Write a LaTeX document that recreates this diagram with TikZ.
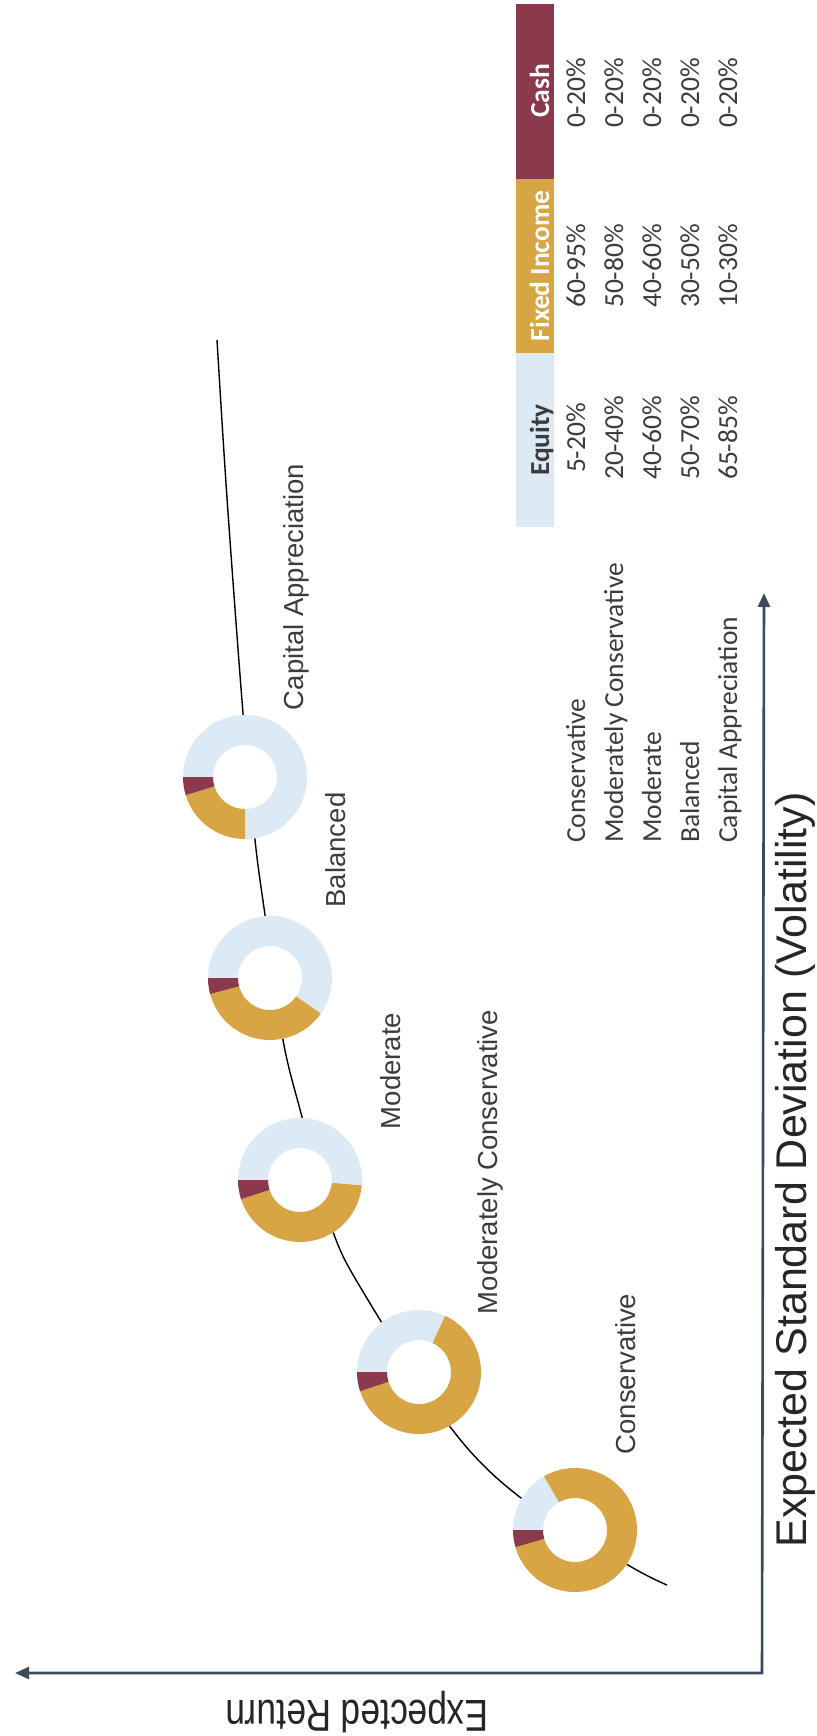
\documentclass[tikz,border=0pt]{standalone}
\usepackage{fontspec}
\usepackage{graphicx}
\setmainfont{Liberation Sans}
\newfontfamily\calib{Carlito}
\usetikzlibrary{arrows.meta}
\definecolor{eqc}{HTML}{DCEAF6}
\definecolor{fic}{HTML}{D8A544}
\definecolor{cac}{HTML}{8B3A4D}
\definecolor{axc}{HTML}{3A4B5C}
\definecolor{txc}{HTML}{3C3C3C}
\newcommand\mydonut[3]{%
  \begin{scope}[shift={(#1)}]
    \fill[white] (0,0) circle[radius=62];
    \fill[eqc] (180:62) arc[start angle=180,end angle=#2,radius=62] -- (#2:32) arc[start angle=#2,end angle=180,radius=32] -- cycle;
    \fill[fic] (#2:62) arc[start angle=#2,end angle=#3,radius=62] -- (#3:32) arc[start angle=#3,end angle=#2,radius=32] -- cycle;
    \fill[cac] (#3:62) arc[start angle=#3,end angle=-180,radius=62] -- (-180:32) arc[start angle=-180,end angle=#3,radius=32] -- cycle;
  \end{scope}}
\begin{document}
\begin{tikzpicture}[x=1pt,y=1pt,
  lbl/.style={rotate=90,anchor=base,inner sep=0pt,text=txc,font=\fontsize{27.5}{30}\selectfont},
  tbl/.style={rotate=90,inner sep=0pt,text=txc,font=\calib\fontsize{27.5}{30}\selectfont},
  hdr/.style={rotate=90,anchor=base,inner sep=0pt,font=\calib\bfseries\fontsize{27.5}{30}\selectfont},
  axis/.style={draw=axc,line width=2.6pt,{Triangle[length=14pt,width=12pt]}-{Triangle[length=14pt,width=12pt]}},
  curve/.style={draw=black,line width=1.4pt}]
\useasboundingbox (0,0) rectangle (816,-1736);
\fill[white] (0,0) rectangle (816,-1736);
% frontier curve
\draw[curve] plot[smooth,tension=0.55] coordinates {(667,-1585) (628,-1565) (521,-1498) (451,-1428) (365,-1295) (332,-1229) (302,-1117) (283,-1040) (265,-915) (255,-840) (243,-713) (227,-498) (217,-340)};
% donuts
\coordinate (d1) at (575,-1530);
\coordinate (d2) at (419,-1372);
\coordinate (d3) at (300,-1180);
\coordinate (d4) at (270,-978);
\coordinate (d5) at (245,-777);
\mydonut{d1}{120}{-164}
\mydonut{d2}{65}{-162}
\mydonut{d3}{-5}{-162}
\mydonut{d4}{-35}{-165}
\mydonut{d5}{-90}{-163}
% labels
\node[lbl] (l1) at (635,-1374) {Conservative};
\node[lbl] (l2) at (497,-1162) {Moderately Conservative};
\node[lbl] (l3) at (400,-1071) {Moderate};
\node[lbl] (l4) at (345,-850) {Balanced};
\node[lbl] (l5) at (303,-587) {Capital Appreciation};
% axes
\coordinate (org) at (762,-1673);
\coordinate (yend) at (15,-1673);
\coordinate (xend) at (764,-593);
\draw[axis] (yend) -- (org) -- (xend);
\node[rotate=180,inner sep=0pt,text=black!85,font=\fontsize{44.7}{48}\selectfont] (ylab) at (357,-1712) {\scalebox{0.79}[1]{Expected Return}};
\node[rotate=90,anchor=base,inner sep=0pt,text=black!85,font=\fontsize{43}{46}\selectfont] (xlab) at (806,-1170) {Expected Standard Deviation (Volatility)};
% table header
\fill[cac] (516,-4) rectangle (554,-179);
\fill[fic] (516,-179) rectangle (554,-353);
\fill[eqc] (516,-353) rectangle (554,-527);
\node[hdr,text=white] (hc) at (549,-91) {Cash};
\node[hdr,text=white] (hf) at (549,-266) {Fixed Income};
\node[hdr,text=txc] (he) at (549,-440) {Equity};
% table rows
\foreach \px/\nm/\va/\vb in {585/Conservative/5-20\%/60-95\%, 623/Moderately Conservative/20-40\%/50-80\%, 661/Moderate/40-60\%/40-60\%, 699/Balanced/50-70\%/30-50\%, 737/Capital Appreciation/65-85\%/10-30\%}{
  \node[tbl,anchor=base west] at (\px,-843) {\nm};
  \node[tbl,anchor=base] at (\px,-438) {\va};
  \node[tbl,anchor=base] at (\px,-266) {\vb};
  \node[tbl,anchor=base] at (\px,-93) {0-20\%};
}
\end{tikzpicture}
\end{document}
